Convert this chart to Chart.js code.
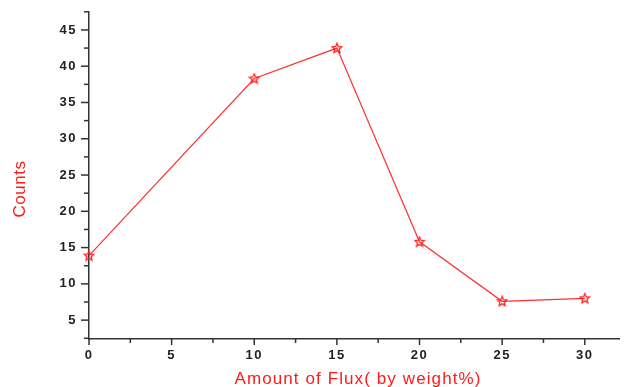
<!DOCTYPE html>
<html><head><meta charset="utf-8">
<script src="https://cdn.jsdelivr.net/npm/chart.js@4/dist/chart.umd.min.js"></script>
<style>html,body{margin:0;padding:0;background:#fff}#wrap{width:627px;height:387px}</style>
</head><body><div id="wrap"><canvas id="c"></canvas></div>
<script>
const fluxAmounts = [0, 10, 15, 20, 25, 30];
const counts = [13.9, 38.3, 42.5, 15.8, 7.6, 8.0];
const xTitle = 'Amount of Flux( by weight%)';
const yTitle = 'Counts';

function starCanvas(){
  const c = document.createElement('canvas');
  c.width = 12; c.height = 12;
  const g = c.getContext('2d');
  g.strokeStyle = '#ff2020'; g.lineWidth = 1.3;
  g.beginPath();
  for(let i=0;i<10;i++){
    const r = i%2===0 ? 5 : 2.3;
    const a = -Math.PI/2 + i*Math.PI/5;
    const px = 6 + r*Math.cos(a), py = 6.3 + r*Math.sin(a);
    if(i===0) g.moveTo(px,py); else g.lineTo(px,py);
  }
  g.closePath(); g.stroke();
  return c;
}

const axisPlugin = {
  id:'axisTicks',
  beforeDraw(chart){ chart.ctx.letterSpacing = '1.5px'; },
  afterDraw(chart){
    const ctx = chart.ctx, xs = chart.scales.x, ys = chart.scales.y;
    ctx.save();
    ctx.strokeStyle = '#333'; ctx.lineWidth = 1.5;
    for(let v=0; v<=32.5; v+=2.5){
      const p = xs.getPixelForValue(v);
      if(p > xs.right+1) break;
      const len = (v%5===0) ? 6 : 4;
      ctx.beginPath(); ctx.moveTo(p, ys.bottom); ctx.lineTo(p, ys.bottom+len); ctx.stroke();
    }
    for(let v=2.5; v<=47.5; v+=2.5){
      const p = ys.getPixelForValue(v);
      if(p < ys.top-1) break;
      const len = (v%5===0) ? 8 : 5;
      ctx.beginPath(); ctx.moveTo(xs.left, p); ctx.lineTo(xs.left-len, p); ctx.stroke();
    }
    // axis titles
    ctx.fillStyle = '#ff1a1a';
    ctx.font = '17px "Liberation Sans"';
    ctx.letterSpacing = '1.1px';
    ctx.textAlign = 'center'; ctx.textBaseline = 'middle';
    ctx.fillText(xTitle, 358, 379);
    ctx.translate(20, 189);
    ctx.rotate(-Math.PI/2);
    ctx.letterSpacing = '0.5px';
    ctx.fillText(yTitle, 0, 0);
    ctx.restore();
  }
};

new Chart(document.getElementById('c'), {
  type:'line',
  data:{ datasets:[{
    data: fluxAmounts.map((x,i)=>({x, y:counts[i]})),
    borderColor:'#ff3030', borderWidth:1.2, tension:0,
    pointStyle: starCanvas(), pointRadius:6, pointHoverRadius:6,
    clip:false
  }]},
  options:{
    responsive:true, maintainAspectRatio:false, animation:false,
    plugins:{legend:{display:false}, tooltip:{enabled:false}},
    layout:{padding:{top:4, right:1, left:0, bottom:0}},
    scales:{
      x:{ type:'linear', min:0, max:32.12,
        afterFit(s){ s.height = 48; },
        grid:{display:false},
        border:{display:true, color:'#333', width:1.5},
        ticks:{stepSize:5, includeBounds:false, padding:1, color:'#222', font:{family:'Liberation Sans', size:13, weight:'bold'}, maxRotation:0},
        title:{display:false, text:xTitle}
      },
      y:{ type:'linear', min:2.4, max:47.5,
        afterFit(s){ s.width = 89; },
        grid:{display:false},
        border:{display:true, color:'#333', width:1.5},
        ticks:{stepSize:5, includeBounds:false, padding:4, color:'#222', font:{family:'Liberation Sans', size:13, weight:'bold'}},
        title:{display:false, text:yTitle}
      }
    }
  },
  plugins:[axisPlugin]
});
</script></body></html>
